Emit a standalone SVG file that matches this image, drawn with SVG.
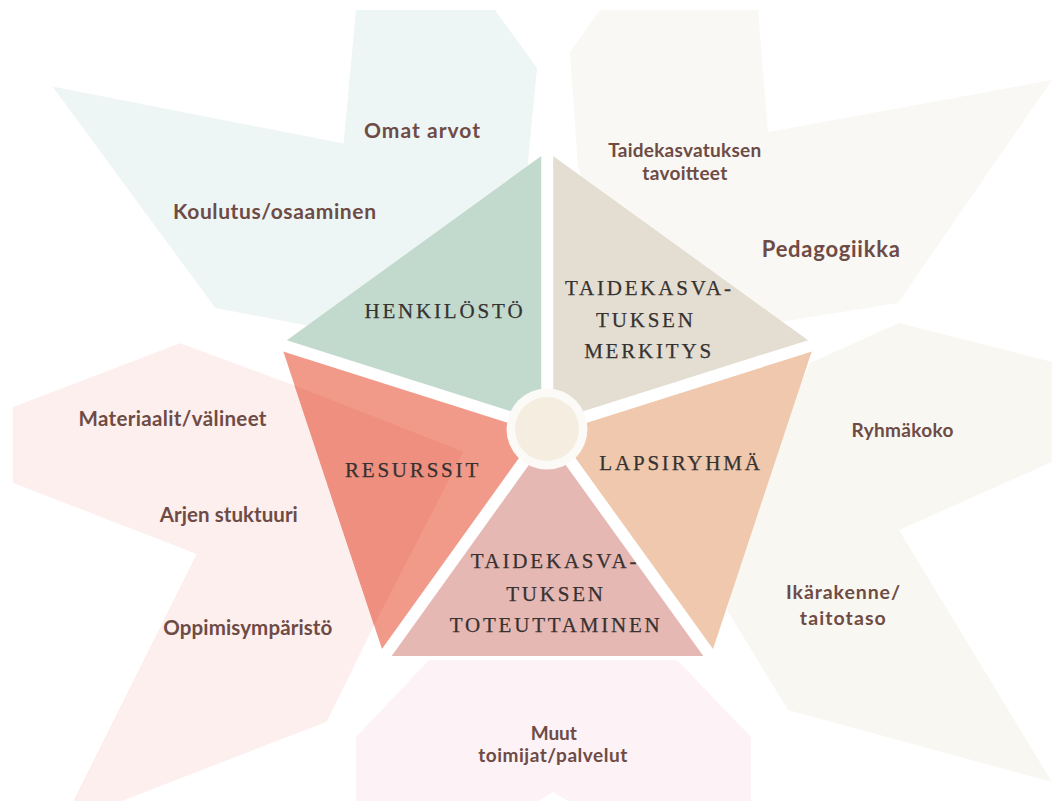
<svg xmlns="http://www.w3.org/2000/svg" width="1052" height="801" viewBox="0 0 1052 801">
<defs>
<style>
.lbl{font-family:Lato,"Liberation Sans",sans-serif;font-weight:700;fill:#6E4B45;text-anchor:middle}
.ttl{font-family:"Liberation Serif",serif;font-size:21px;letter-spacing:2.8px;fill:#363231;text-anchor:middle;stroke:#363231;stroke-width:0.25}
.gap{stroke:#FFFFFF;stroke-width:12;stroke-linecap:butt}
</style>
<clipPath id="redclip"><polygon points="547.2,429 281,344.6 384.3,656"/></clipPath>
</defs>
<rect width="1052" height="801" fill="#FFFFFF"/>

<g id="bg-henkilosto">
<polygon points="356,10 495,10 537,68 528,161 528,172 480,300 307,325.5 215.4,308 52.5,86.6 343.6,143.6" fill="#EEF5F5"/>
<text class="lbl" x="422" y="137.6" font-size="21" textLength="116" lengthAdjust="spacing">Omat arvot</text>
<text class="lbl" x="274.5" y="218.8" font-size="21" textLength="203" lengthAdjust="spacing">Koulutus/osaaminen</text>
</g>

<g id="bg-merkitys">
<polygon points="600,10 758,10 768,132 1052,80 898,303 780,322 640,330 578,167 570,52" fill="#F9F8F4"/>
<text class="lbl" x="684.7" y="157.3" font-size="19" textLength="153" lengthAdjust="spacing">Taidekasvatuksen</text>
<text class="lbl" x="684.8" y="180" font-size="19" textLength="85" lengthAdjust="spacing">tavoitteet</text>
<text class="lbl" x="830.8" y="257.3" font-size="22" textLength="138" lengthAdjust="spacing">Pedagogiikka</text>
</g>

<g id="bg-lapsiryhma">
<polygon points="899,323 1052,362 1052,462 899,530 1052,782 788,710 727,610 760,480 810,363" fill="#F9F7F2"/>
<text class="lbl" x="902.5" y="436.7" font-size="19" textLength="102" lengthAdjust="spacing">Ryhmäkoko</text>
<text class="lbl" x="843" y="599.3" font-size="19.5" textLength="114" lengthAdjust="spacing">Ikärakenne/</text>
<text class="lbl" x="842.8" y="625" font-size="19.5" textLength="86" lengthAdjust="spacing">taitotaso</text>
</g>

<g id="bg-toteuttaminen">
<polygon points="356,737 429,660 677,660 751,737 751,801 568,801 553,792 538,801 356,801" fill="#FDF2F5"/>
<text class="lbl" x="553.8" y="740" font-size="19" textLength="46" lengthAdjust="spacing">Muut</text>
<text class="lbl" x="552.8" y="761.7" font-size="19" textLength="149" lengthAdjust="spacing">toimijat/palvelut</text>
</g>

<g id="bg-resurssit">
<polygon points="180,343.3 293.3,385 463.3,451.7 373.3,626.7 326.7,721.7 121.7,801 73.3,801 196.7,554 12.7,482.7 12.7,407.3" fill="#FCEFED"/>
<text class="lbl" x="172.5" y="426" font-size="20.5" textLength="188" lengthAdjust="spacing">Materiaalit/välineet</text>
<text class="lbl" x="228.8" y="521.7" font-size="20.5" textLength="138" lengthAdjust="spacing">Arjen stuktuuri</text>
<text class="lbl" x="247.8" y="635" font-size="20.5" textLength="169" lengthAdjust="spacing">Oppimisympäristö</text>
</g>

<g id="henkilosto">
<polygon points="547.2,429 547.2,151.7 281,344.6" fill="#C2DACE"/>
<text class="ttl" x="445" y="318">HENKILÖSTÖ</text>
</g>

<g id="merkitys">
<polygon points="547.2,429 547.2,151.7 814,344.6" fill="#E4DED2"/>
<text class="ttl" x="649.4" y="295">TAIDEKASVA-</text>
<text class="ttl" x="645.9" y="326.7">TUKSEN</text>
<text class="ttl" x="649" y="358">MERKITYS</text>
</g>

<g id="resurssit">
<polygon points="547.2,429 281,344.6 384.3,656" fill="#F29A8A"/>
<polygon points="180,343.3 293.3,385 463.3,451.7 373.3,626.7 326.7,721.7 121.7,801 73.3,801 196.7,554 12.7,482.7 12.7,407.3" fill="#EE8F7F" clip-path="url(#redclip)"/>
<text class="ttl" x="413" y="477">RESURSSIT</text>
</g>

<g id="lapsiryhma">
<polygon points="547.2,429 814,344.6 710.7,656" fill="#EFC8AD"/>
<text class="ttl" x="681" y="470">LAPSIRYHMÄ</text>
</g>

<g id="toteuttaminen">
<polygon points="547.2,429 384.3,656 710.7,656" fill="#E6B8B4"/>
<text class="ttl" x="555" y="568.3">TAIDEKASVA-</text>
<text class="ttl" x="556" y="600.7">TUKSEN</text>
<text class="ttl" x="556.2" y="631.7">TOTEUTTAMINEN</text>
</g>

<g id="gaps">
<line class="gap" x1="547.2" y1="429" x2="547.2" y2="151.7"/>
<line class="gap" x1="547.2" y1="429" x2="281" y2="344.6"/>
<line class="gap" x1="547.2" y1="429" x2="814" y2="344.6"/>
<line class="gap" x1="547.2" y1="429" x2="384.3" y2="656"/>
<line class="gap" x1="547.2" y1="429" x2="710.7" y2="656"/>
</g>

<g id="center">
<circle cx="547" cy="429" r="40.5" fill="#FCFAF7"/>
<circle cx="547" cy="429" r="32" fill="#F5EEE0"/>
</g>
</svg>
